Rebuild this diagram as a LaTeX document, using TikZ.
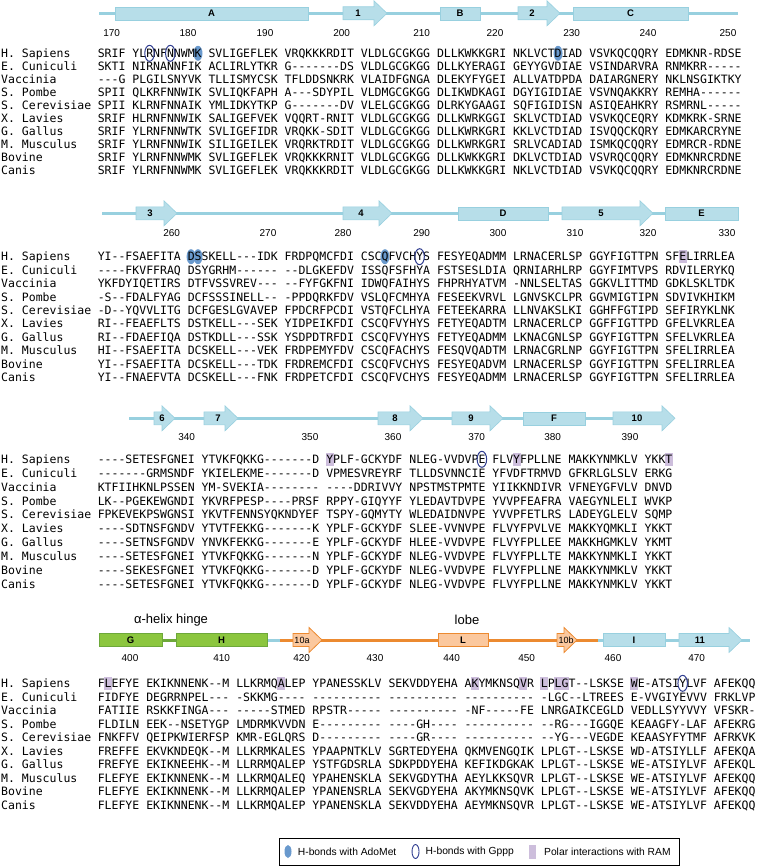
\documentclass[tikz,border=0pt]{standalone}
\usepackage{fontspec}
\setmainfont{Liberation Sans}
\setmonofont{DejaVu Sans Mono}
\usepackage{xcolor}
\usepackage{tikz}
\usetikzlibrary{shapes.geometric, positioning, calc}

\definecolor{barfill}{HTML}{B7DEE9}
\definecolor{barline}{HTML}{98D0DF}
\definecolor{hingefill}{HTML}{8CC63F}
\definecolor{hingeline}{HTML}{6DA83A}
\definecolor{lobefill}{HTML}{FBC89E}
\definecolor{lobeline}{HTML}{EC8A30}
\definecolor{adomet}{HTML}{4F87C4}
\definecolor{gppp}{HTML}{2E3C8F}
\definecolor{ram}{HTML}{CDBEDC}

% x centre of alignment column #1
\newcommand{\colx}[1]{97.6+(#1+0.5)*6.924}
% strand arrow: style, start, tip, y
\newcommand{\strandarrow}[4]{%
  \filldraw[#1] (#2,#4-6.5) -- (#3-13,#4-6.5) -- (#3-13,#4-12.5) -- (#3,#4)
    -- (#3-13,#4+12.5) -- (#3-13,#4+6.5) -- (#2,#4+6.5) -- cycle;}

\begin{document}
\begin{tikzpicture}[x=1pt, y=-1pt]
    \tikzstyle{backbone} = [line width=3pt, draw=barline]
    \tikzstyle{helix} = [rectangle, draw=barline, fill=barfill, minimum height=13pt, inner sep=0pt, font=\fontsize{9.5}{11}\selectfont\bfseries]
    \tikzstyle{sheet} = [draw=barline, fill=barfill, line width=0.6pt]
    \tikzstyle{barlabel} = [inner sep=0pt, font=\fontsize{9.5}{11}\selectfont\bfseries]
    \tikzstyle{resnum} = [inner sep=0pt, font=\fontsize{10}{12}\selectfont]
    \tikzstyle{seq} = [anchor=base west, inner sep=0pt, font=\ttfamily\fontsize{11.5}{13}\selectfont]
    \tikzstyle{amark} = [ellipse, fill=adomet!85, minimum width=9pt, minimum height=15pt, inner sep=0pt]
    \tikzstyle{gmark} = [ellipse, draw=gppp, line width=1pt, minimum width=9.5pt, minimum height=16pt, inner sep=0pt]
    \tikzstyle{rmark} = [rectangle, fill=ram, minimum width=8pt, minimum height=13pt, inner sep=0pt]
    \tikzstyle{legtext} = [inner sep=0pt, font=\fontsize{10.3}{12}\selectfont]

    \useasboundingbox (0,0) rectangle (780,867);

    % ---- block 1: 170-250 ----
    \coordinate (b1s) at (99,13.3);
    \coordinate (b1e) at (738,13.3);
    \draw[backbone] (b1s) -- (b1e);
    \node[helix, minimum width=193pt] (hA) at (211.5,13.3) {A};
    \strandarrow{sheet}{343}{387}{13.3}
    \node[barlabel] (s1) at (358,13.3) {1};
    \node[helix, minimum width=40pt] (hB) at (460,13.3) {B};
    \strandarrow{sheet}{518}{560}{13.3}
    \node[barlabel] (s2) at (532,13.3) {2};
    \node[helix, minimum width=115pt] (hC) at (630.5,13.3) {C};
    \foreach \n/\x in {170/111.7, 180/188, 190/265, 200/341.7, 210/421.7, 220/495, 230/571.7, 240/648, 250/728}
        \node[resnum] (p\n) at (\x,33.3) {\n};

    % ---- block 2: 260-330 ----
    \coordinate (b2s) at (102,213.3);
    \coordinate (b2e) at (738,213.3);
    \draw[backbone] (b2s) -- (b2e);
    \strandarrow{sheet}{136}{177}{213.3}
    \node[barlabel] (s3) at (150,213.3) {3};
    \strandarrow{sheet}{343}{392}{213.3}
    \node[barlabel] (s4) at (361,213.3) {4};
    \node[helix, minimum width=90pt] (hD) at (503,213.3) {D};
    \strandarrow{sheet}{562}{653}{213.3}
    \node[barlabel] (s5) at (601,213.3) {5};
    \node[helix, minimum width=73pt] (hE) at (701.5,213.3) {E};
    \foreach \n/\x in {260/171.7, 270/268, 280/343, 290/421.7, 300/498, 310/575, 320/648, 330/727}
        \node[resnum] (p\n) at (\x,233.3) {\n};

    % ---- block 3: 340-390 ----
    \coordinate (b3s) at (129,418.3);
    \coordinate (b3e) at (670,418.3);
    \draw[backbone] (b3s) -- (b3e);
    \strandarrow{sheet}{154}{175}{418.3}
    \node[barlabel] (s6) at (162,418.3) {6};
    \strandarrow{sheet}{204}{238}{418.3}
    \node[barlabel] (s7) at (218,418.3) {7};
    \strandarrow{sheet}{378}{423}{418.3}
    \node[barlabel] (s8) at (395,418.3) {8};
    \strandarrow{sheet}{452}{503}{418.3}
    \node[barlabel] (s9) at (471,418.3) {9};
    \node[helix, minimum width=62pt] (hF) at (554,418.3) {F};
    \strandarrow{sheet}{613}{675}{418.3}
    \node[barlabel] (s10) at (637,418.3) {10};
    \foreach \n/\x in {340/186.7, 350/310, 360/393, 370/476.7, 380/552.7, 390/630}
        \node[resnum] (p\n) at (\x,436.7) {\n};

    % ---- block 4: 400-470 ----
    \coordinate (g1) at (162,640);
    \coordinate (g2) at (176,640);
    \coordinate (o1) at (267,640);
    \coordinate (o2) at (280,640);
    \coordinate (o3) at (598,640);
    \coordinate (b4e) at (750,640);
    \draw[line width=3pt, hingeline] (g1) -- (g2);
    \draw[backbone] (o1) -- (o2);
    \draw[backbone] (o3) -- (b4e);
    \draw[line width=3pt, lobeline] (o2) -- (o3);
    \node[helix, draw=hingeline, fill=hingefill, minimum width=63pt] (hG) at (130.5,640) {G};
    \node[helix, draw=hingeline, fill=hingefill, minimum width=91pt] (hH) at (221.5,640) {H};
    \strandarrow{draw=lobeline, fill=lobefill, line width=0.8pt}{293}{322}{640}
    \node[inner sep=0pt, font=\fontsize{9}{10}\selectfont] (s10a) at (302,640) {10a};
    \node[helix, draw=lobeline, fill=lobefill, line width=0.8pt, minimum width=50pt] (hL) at (463,640) {L};
    \strandarrow{draw=lobeline, fill=lobefill, line width=0.8pt}{557}{577}{640}
    \node[inner sep=0pt, font=\fontsize{9}{10}\selectfont] (s10b) at (566,640) {10b};
    \node[helix, minimum width=62pt] (hI) at (634,640) {I};
    \strandarrow{sheet}{679}{742}{640}
    \node[barlabel] (s11) at (700,640) {11};
    \node[inner sep=0pt, font=\fontsize{13}{15}\selectfont] (hinge) at (171,620) {α-helix hinge};
    \node[inner sep=0pt, font=\fontsize{13}{15}\selectfont] (lobe) at (467,620) {lobe};
    \foreach \n/\x in {400/130, 410/221.7, 420/301.7, 430/375, 440/451.7, 450/526.7, 460/613, 470/696.7}
        \node[resnum] (p\n) at (\x,658.3) {\n};

    % ---- species names ----
    \foreach \b/\yo/\st in {1/53.3/13.05, 2/256.7/13.4, 3/459.3/13.85, 4/683.3/13.55} {
        \foreach \nm [count=\i] in {H. Sapiens, E. Cuniculi, Vaccinia, S. Pombe, S. Cerevisiae, X. Lavies, G. Gallus, M. Musculus, Bovine, Canis} {
            \coordinate (r\b-\i) at (1,{\yo+(\i-1)*\st+4.2});
            \node[seq] (n\b-\i) at (r\b-\i) {\nm};
        }
    }

    % ---- marks behind the letters ----
    \node[amark] (am1) at ({\colx{14}},53.3) {};
    \node[amark] (am2) at ({\colx{66}},53.3) {};
    \node[amark] (am3) at ({\colx{13}},256.7) {};
    \node[amark] (am4) at ({\colx{14}},256.7) {};
    \node[amark] (am5) at ({\colx{41}},256.7) {};
    \node[rmark] (rm1) at ({\colx{84}},256.7) {};
    \foreach \c in {33,60,82}
        \node[rmark] (rm3-\c) at ({\colx{\c}},459.3) {};
    \foreach \c in {1,26,54,61,64,66,67,77}
        \node[rmark] (rm4-\c) at ({\colx{\c}},683.3) {};

    % ---- alignment ----
    \node[seq] (hs1) at ($(r1-1)+(96.6,0)$) {SRIF YLRNFNNWMK SVLIGEFLEK VRQKKKRDIT VLDLGCGKGG DLLKWKKGRI NKLVCTDIAD VSVKQCQQRY EDMKNR-RDSE};
    \node[seq] (ec1) at ($(r1-2)+(96.6,0)$) {SKTI NIRNANNFIK ACLIRLYTKR G-------DS VLDLGCGKGG DLLKYERAGI GEYYGVDIAE VSINDARVRA RNMKRR-----};
    \node[seq] (va1) at ($(r1-3)+(96.6,0)$) {---G PLGILSNYVK TLLISMYCSK TFLDDSNKRK VLAIDFGNGA DLEKYFYGEI ALLVATDPDA DAIARGNERY NKLNSGIKTKY};
    \node[seq] (sp1) at ($(r1-4)+(96.6,0)$) {SPII QLKRFNNWIK SVLIQKFAPH A---SDYPIL VLDMGCGKGG DLIKWDKAGI DGYIGIDIAE VSVNQAKKRY REMHA------};
    \node[seq] (sc1) at ($(r1-5)+(96.6,0)$) {SPII KLRNFNNAIK YMLIDKYTKP G-------DV VLELGCGKGG DLRKYGAAGI SQFIGIDISN ASIQEAHKRY RSMRNL-----};
    \node[seq] (xl1) at ($(r1-6)+(96.6,0)$) {SRIF HLRNFNNWIK SALIGEFVEK VQQRT-RNIT VLDLGCGKGG DLLKWRKGGI SKLVCTDIAD VSVKQCEQRY KDMKRK-SRNE};
    \node[seq] (gg1) at ($(r1-7)+(96.6,0)$) {SRIF YLRNFNNWTK SVLIGEFIDR VRQKK-SDIT VLDLGCGKGG DLLKWRKGRI KKLVCTDIAD ISVQQCKQRY EDMKARCRYNE};
    \node[seq] (mm1) at ($(r1-8)+(96.6,0)$) {SRIF YLRNFNNWIK SILIGEILEK VRQRKTRDIT VLDLGCGKGG DLLKWRKGRI SRLVCADIAD ISMKQCQQRY EDMRCR-RDNE};
    \node[seq] (bo1) at ($(r1-9)+(96.6,0)$) {SRIF YLRNFNNWMK SVLIGEFLEK VRQKKKRNIT VLDLGCGKGG DLLKWKKGRI DKLVCTDIAD VSVRQCQQRY EDMKNRCRDNE};
    \node[seq] (ca1) at ($(r1-10)+(96.6,0)$) {SRIF YLRNFNNWMK SVLIGEFLEK VRQKKKRDIT VLDLGCGKGG DLLKWKKGRI NKLVCTDIAD VSVKQCQQRY EDMKNRCRDNE};

    \node[seq] (hs2) at ($(r2-1)+(96.6,0)$) {YI--FSAEFITA DSSKELL---IDK FRDPQMCFDI CSCQFVCHYS FESYEQADMM LRNACERLSP GGYFIGTTPN SFELIRRLEA};
    \node[seq] (ec2) at ($(r2-2)+(96.6,0)$) {----FKVFFRAQ DSYGRHM------ --DLGKEFDV ISSQFSFHYA FSTSESLDIA QRNIARHLRP GGYFIMTVPS RDVILERYKQ};
    \node[seq] (va2) at ($(r2-3)+(96.6,0)$) {YKFDYIQETIRS DTFVSSVREV--- --FYFGKFNI IDWQFAIHYS FHPRHYATVM -NNLSELTAS GGKVLITTMD GDKLSKLTDK};
    \node[seq] (sp2) at ($(r2-4)+(96.6,0)$) {-S--FDALFYAG DCFSSSINELL-- -PPDQRKFDV VSLQFCMHYA FESEEKVRVL LGNVSKCLPR GGVMIGTIPN SDVIVKHIKM};
    \node[seq] (sc2) at ($(r2-5)+(96.6,0)$) {-D--YQVVLITG DCFGESLGVAVEP FPDCRFPCDI VSTQFCLHYA FETEEKARRA LLNVAKSLKI GGHFFGTIPD SEFIRYKLNK};
    \node[seq] (xl2) at ($(r2-6)+(96.6,0)$) {RI--FEAEFLTS DSTKELL---SEK YIDPEIKFDI CSCQFVYHYS FETYEQADTM LRNACERLCP GGFFIGTTPD GFELVKRLEA};
    \node[seq] (gg2) at ($(r2-7)+(96.6,0)$) {RI--FDAEFIQA DSTKDLL---SSK YSDPDTRFDI CSCQFVYHYS FETYEQADMM LKNACGNLSP GGYFIGTTPN SFELVKRLEA};
    \node[seq] (mm2) at ($(r2-8)+(96.6,0)$) {HI--FSAEFITA DCSKELL---VEK FRDPEMYFDV CSCQFACHYS FESQVQADTM LRNACGRLNP GGYFIGTTPN SFELIRRLEA};
    \node[seq] (bo2) at ($(r2-9)+(96.6,0)$) {YI--FSAEFITA DCSKELL---TDK FRDREMCFDI CSCQFVCHYS FESYEQADVM LRNACERLSP GGYFIGTTPN SFELIRRLEA};
    \node[seq] (ca2) at ($(r2-10)+(96.6,0)$) {YI--FNAEFVTA DCSKELL---FNK FRDPETCFDI CSCQFVCHYS FESYEQADMM LRNACERLSP GGYFIGTTPN SFELIRRLEA};

    \node[seq] (hs3) at ($(r3-1)+(96.6,0)$) {----SETESFGNEI YTVKFQKKG-------D YPLF-GCKYDF NLEG-VVDVPE FLVYFPLLNE MAKKYNMKLV YKKT};
    \node[seq] (ec3) at ($(r3-2)+(96.6,0)$) {-------GRMSNDF YKIELEKME-------D VPMESVREYRF TLLDSVNNCIE YFVDFTRMVD GFKRLGLSLV ERKG};
    \node[seq] (va3) at ($(r3-3)+(96.6,0)$) {KTFIIHKNLPSSEN YM-SVEKIA-------- ----DDRIVVY NPSTMSTPMTE YIIKKNDIVR VFNEYGFVLV DNVD};
    \node[seq] (sp3) at ($(r3-4)+(96.6,0)$) {LK--PGEKEWGNDI YKVRFPESP----PRSF RPPY-GIQYYF YLEDAVTDVPE YVVPFEAFRA VAEGYNLELI WVKP};
    \node[seq] (sc3) at ($(r3-5)+(96.6,0)$) {FPKEVEKPSWGNSI YKVTFENNSYQKNDYEF TSPY-GQMYTY WLEDAIDNVPE YVVPFETLRS LADEYGLELV SQMP};
    \node[seq] (xl3) at ($(r3-6)+(96.6,0)$) {----SDTNSFGNDV YTVTFEKKG-------K YPLF-GCKYDF SLEE-VVNVPE FLVYFPVLVE MAKKYQMKLI YKKT};
    \node[seq] (gg3) at ($(r3-7)+(96.6,0)$) {----SETNSFGNDV YNVKFEKKG-------E YPLF-GCKYDF HLEE-VVDVPE FLVYFPLLEE MAKKHGMKLV YKMT};
    \node[seq] (mm3) at ($(r3-8)+(96.6,0)$) {----SETESFGNEI YTVKFQKKG-------N YPLF-GCKYDF NLEG-VVDVPE FLVYFPLLTE MAKKYNMKLI YKKT};
    \node[seq] (bo3) at ($(r3-9)+(96.6,0)$) {----SEKESFGNEI YTVKFQKKG-------D YPLF-GCKYDF NLEG-VVDVPE FLVYFPLLNE MAKKYNMKLV YKKT};
    \node[seq] (ca3) at ($(r3-10)+(96.6,0)$) {----SETESFGNEI YTVKFQKKG-------D YPLF-GCKYDF NLEG-VVDVPE FLVYFPLLNE MAKKYNMKLV YKKT};

    \node[seq] (hs4) at ($(r4-1)+(96.6,0)$) {FLEFYE EKIKNNENK--M LLKRMQALEP YPANESSKLV SEKVDDYEHA AKYMKNSQVR LPLGT--LSKSE WE-ATSIYLVF AFEKQQ};
    \node[seq] (ec4) at ($(r4-2)+(96.6,0)$) {FIDFYE DEGRRNPEL--- -SKKMG---- ---------- ---------- ---------- -LGC--LTREES E-VVGIYEVVV FRKLVP};
    \node[seq] (va4) at ($(r4-3)+(96.6,0)$) {FATIIE RSKKFINGA--- -----STMED RPSTR----- ---------- -NF-----FE LNRGAIKCEGLD VEDLLSYYVVY VFSKR-};
    \node[seq] (sp4) at ($(r4-4)+(96.6,0)$) {FLDILN EEK--NSETYGP LMDRMKVVDN E--------- ----GH---- ---------- --RG---IGGQE KEAAGFY-LAF AFEKRG};
    \node[seq] (sc4) at ($(r4-5)+(96.6,0)$) {FNKFFV QEIPKWIERFSP KMR-EGLQRS D--------- ----GR---- ---------- --YG---VEGDE KEAASYFYTMF AFRKVK};
    \node[seq] (xl4) at ($(r4-6)+(96.6,0)$) {FREFFE EKVKNDEQK--M LLKRMKALES YPAAPNTKLV SGRTEDYEHA QKMVENGQIK LPLGT--LSKSE WD-ATSIYLLF AFEKQA};
    \node[seq] (gg4) at ($(r4-7)+(96.6,0)$) {FREFYE EKIKNEEHK--M LLRRMQALEP YSTFGDSRLA SDKPDDYEHA KEFIKDGKAK LPLGT--LSKSE WE-ATSIYLVF AFEKQL};
    \node[seq] (mm4) at ($(r4-8)+(96.6,0)$) {FLEFYE EKIKNNENK--M LLKRMQALEQ YPAHENSKLA SEKVGDYTHA AEYLKKSQVR LPLGT--LSKSE WE-ATSIYLVF AFEKQQ};
    \node[seq] (bo4) at ($(r4-9)+(96.6,0)$) {FLEFYE EKIKNNENK--M LLKRMQALEP YPANENSRLA SEKVGDYEHA AKYMKNSQVK LPLGT--LSKSE WE-ATSIYLVF AFEKQQ};
    \node[seq] (ca4) at ($(r4-10)+(96.6,0)$) {FLEFYE EKIKNNENK--M LLKRMQALEP YPANENSKLA SEKVDDYEHA AEYMKNSQVR LPLGT--LSKSE WE-ATSIYLVF AFEKQQ};

    % ---- Gppp rings on top ----
    \node[gmark] (gm1) at ({\colx{7}},53.3) {};
    \node[gmark] (gm2) at ({\colx{10}},53.3) {};
    \node[gmark] (gm3) at ({\colx{46}},256.7) {};
    \node[gmark] (gm4) at ({\colx{55}},459.3) {};
    \node[gmark] (gm5) at ({\colx{84}},683.3) {};

    % ---- legend ----
    \node[draw, line width=0.8pt, minimum width=400pt, minimum height=27pt, inner sep=0pt] (legend) at (479,851.5) {};
    \node[amark, minimum width=7pt, minimum height=13pt] (kA) at (288,851.5) {};
    \node[legtext, right=6pt of kA] (tA) {H-bonds with AdoMet};
    \node[gmark, minimum width=7pt, minimum height=14pt, line width=0.9pt, right=15pt of tA] (kG) {};
    \node[legtext, right=6pt of kG] (tG) {H-bonds with Gppp};
    \node[rmark, minimum width=6.5pt, minimum height=14pt, right=15pt of tG] (kR) {};
    \node[legtext, right=8pt of kR] (tR) {Polar interactions with RAM};
\end{tikzpicture}
\end{document}
